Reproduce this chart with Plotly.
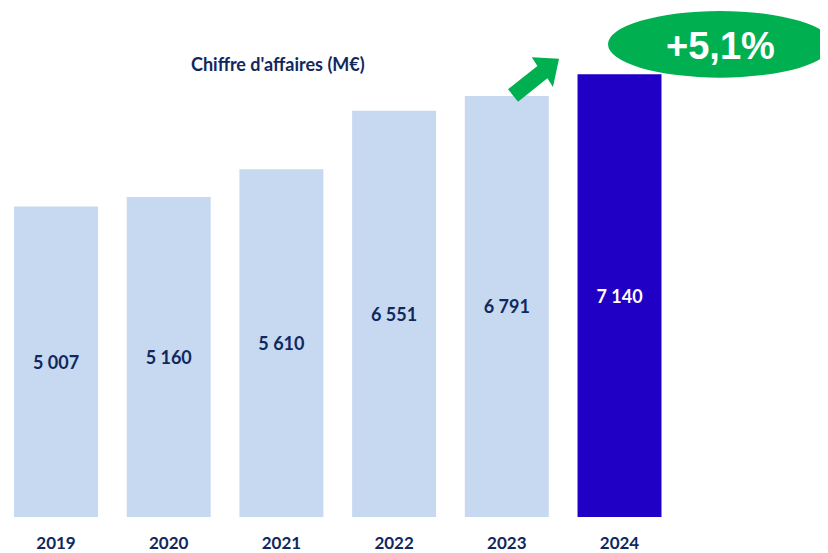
import plotly.graph_objects as go

# Chiffre d'affaires par année (M€)
years = ['2019', '2020', '2021', '2022', '2023', '2024']
revenue = [5007, 5160, 5610, 6551, 6791, 7140]
growth_label = '+5,1%'
title = "Chiffre d'affaires (M€)"

OFF = 8  # default page margin of the browser body
W, H = 828 - OFF, 553 - OFF
TOP, BOTTOM = 10, 512  # plot area in figure pixels


def px(x, y):
    # screen pixel -> paper coords
    return (x - OFF) / W, (BOTTOM - (y - OFF)) / (BOTTOM - TOP)


light = '#C6D9F1'
dark = '#2100C6'
navy = '#10285E'
green = '#00B050'

colors = [light] * (len(years) - 1) + [dark]
text_colors = [navy] * (len(years) - 1) + ['white']
labels = ['<b>' + f'{v:,}'.replace(',', ' ') + '</b>' for v in revenue]

fig = go.Figure(go.Bar(
    x=years, y=revenue,
    marker=dict(color=colors, line=dict(width=0)),
    text=labels, textposition='inside', insidetextanchor='middle',
    textfont=dict(family='Lato', size=18, color=text_colors),
    textangle=0, hoverinfo='skip',
))

# green arrow
pts = [(508, 89.8), (537.4, 66.3), (531.8, 57.5), (559, 59), (553, 87.5),
       (547.4, 78.7), (518, 102.2)]
path = 'M ' + ' L '.join(f'{px(x, y)[0]:.4f},{px(x, y)[1]:.4f}' for x, y in pts) + ' Z'
fig.add_shape(type='path', xref='paper', yref='paper', path=path,
              fillcolor=green, line=dict(width=0))

# green ellipse with growth
x0, y0 = px(608, 78)
x1, y1 = px(832, 11)
fig.add_shape(type='circle', xref='paper', yref='paper', x0=x0, y0=y0, x1=x1, y1=y1,
              fillcolor=green, line=dict(width=0))
ax, ay = px(720, 46)
fig.add_annotation(x=ax, y=ay, xref='paper', yref='paper', text=f'<b>{growth_label}</b>',
                   xanchor='center', yanchor='middle', showarrow=False,
                   font=dict(family='Liberation Sans', size=38, color='white'))

tx, ty = px(278, 64)
fig.add_annotation(x=tx, y=ty, xref='paper', yref='paper', text=f'<b>{title}</b>',
                   xanchor='center', yanchor='middle', showarrow=False,
                   font=dict(family='Lato', size=18, color=navy))

fig.update_layout(
    width=W, height=H,
    margin=dict(l=0, r=0, t=TOP, b=H - BOTTOM),
    paper_bgcolor='white', plot_bgcolor='white',
    bargap=0.255, showlegend=False,
    xaxis=dict(range=[-0.426, 6.85], showgrid=False, showline=False, zeroline=False,
               ticks='outside', ticklen=11, tickcolor='white',
               tickfont=dict(family='Lato', size=17, color=navy)),
    yaxis=dict(range=[0, 8049], visible=False),
)
fig.update_xaxes(tickprefix='<b>', ticksuffix='</b>')

fig.write_html('out.html')
